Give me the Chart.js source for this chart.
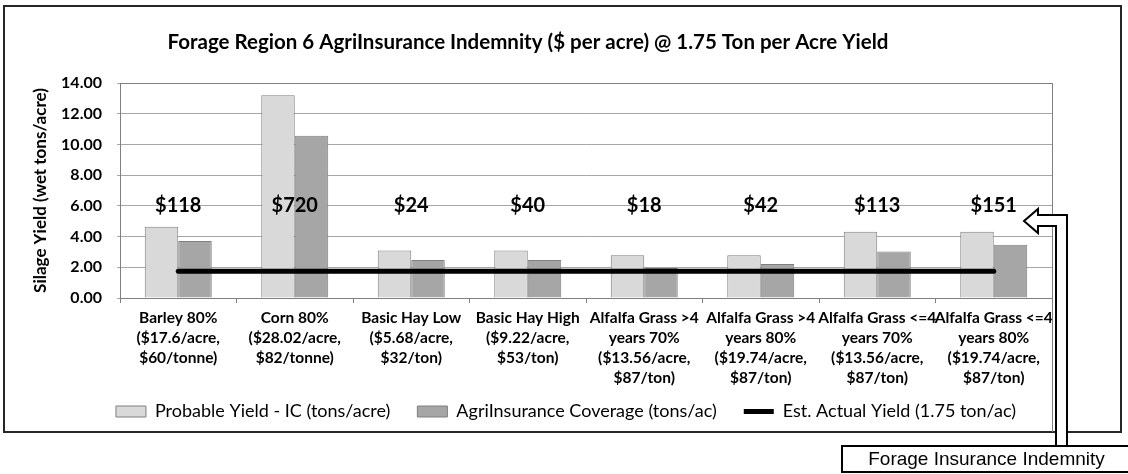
<!DOCTYPE html>
<html>
<head>
<meta charset="utf-8">
<script src="https://cdn.jsdelivr.net/npm/chart.js@4.4.1/dist/chart.umd.min.js"></script>
<style>
    body { margin: 0; background: #fff; }
    #area { width: 1128px; height: 474px; }
</style>
</head>
<body>
<div id="area"><canvas id="graficoIndenizacao" width="1128" height="474"></canvas></div>
<script>
// categorias (rótulos do eixo x, em várias linhas)
const categorias = [
    ["Barley 80%", "($17.6/acre,", "$60/tonne)"],
    ["Corn 80%", "($28.02/acre,", "$82/tonne)"],
    ["Basic Hay Low", "($5.68/acre,", "$32/ton)"],
    ["Basic Hay High", "($9.22/acre,", "$53/ton)"],
    ["Alfalfa Grass >4", "years 70%", "($13.56/acre,", "$87/ton)"],
    ["Alfalfa Grass >4", "years 80%", "($19.74/acre,", "$87/ton)"],
    ["Alfalfa Grass <=4", "years 70%", "($13.56/acre,", "$87/ton)"],
    ["Alfalfa Grass <=4", "years 80%", "($19.74/acre,", "$87/ton)"]
];
const rendimentoProvavel = [4.64, 13.2, 3.1, 3.1, 2.78, 2.78, 4.32, 4.32];   // tons/acre
const coberturaSeguro = [3.71, 10.56, 2.48, 2.48, 1.95, 2.22, 3.02, 3.46];   // tons/ac
const rendimentoReal = [1.75, 1.75, 1.75, 1.75, 1.75, 1.75, 1.75, 1.75];   // 1.75 ton/ac
const indenizacao = [118, 720, 24, 40, 18, 42, 113, 151];                 // $ per acre
const ticksY = { min: 0, max: 14, passo: 2 };

const titulo = "Forage Region 6 AgriInsurance Indemnity ($ per acre) @ 1.75 Ton per Acre Yield";
const nomesSeries = ["Probable Yield - IC (tons/acre)", "AgriInsurance Coverage (tons/ac)", "Est. Actual Yield (1.75 ton/ac)"];

Chart.defaults.font.family = "Lato, 'Open Sans', sans-serif";
Chart.defaults.color = "#000";

// desenha moldura, valores em $ e a caixa com seta
const extras = {
    id: "extras",
    afterLayout(chart) {
        // legenda um pouco à direita e acima, como no original
        const lg = chart.legend;
        const dy = 375.5 - lg.top;
        lg.left += 38; lg.right += 38;
        lg.top += dy; lg.bottom += dy;
    },
    beforeDatasetsDraw(chart) {
        const { ctx, chartArea: a } = chart;
        ctx.save();
        ctx.strokeStyle = "#7f7f7f";
        ctx.lineWidth = 1;
        ctx.strokeRect(a.left + 0.5, a.top + 0.5, a.right - a.left, a.bottom - a.top);
        ctx.restore();
    },
    afterDatasetsDraw(chart) {
        const { ctx, scales } = chart;
        ctx.save();
        ctx.font = "bold 20px Lato";
        ctx.fillStyle = "#000";
        ctx.textAlign = "center";
        ctx.textBaseline = "middle";
        indenizacao.forEach((v, i) => {
            ctx.fillText("$" + v, scales.x.getPixelForValue(i), scales.y.getPixelForValue(6));
        });
        ctx.restore();
    },
    afterDraw(chart) {
        const { ctx, chartArea: a } = chart;
        ctx.save();
        // moldura externa
        ctx.strokeStyle = "#262626";
        ctx.lineWidth = 2;
        ctx.strokeRect(4, 6, 1117, 426);
        // borda direita do gráfico
        ctx.strokeStyle = "#7f7f7f";
        ctx.lineWidth = 1;
        ctx.beginPath();
        ctx.moveTo(a.right + 0.5, a.top);
        ctx.lineTo(a.right + 0.5, 432);
        ctx.stroke();
        // seta
        const seta = [[1024, 221], [1038, 209], [1038, 215], [1067, 215], [1067, 447], [1056, 447], [1056, 226], [1038, 226], [1038, 233]];
        ctx.beginPath();
        seta.forEach(([x, y], i) => i ? ctx.lineTo(x, y) : ctx.moveTo(x, y));
        ctx.closePath();
        ctx.fillStyle = "#fff";
        ctx.fill();
        ctx.strokeStyle = "#000";
        ctx.lineWidth = 2;
        ctx.stroke();
        // caixa
        ctx.fillStyle = "#fff";
        ctx.fillRect(842, 446, 292, 26);
        ctx.strokeRect(842, 446, 292, 26);
        ctx.fillStyle = "#000";
        ctx.font = "19px 'Liberation Sans'";
        ctx.textAlign = "center";
        ctx.textBaseline = "middle";
        ctx.fillText("Forage Insurance Indemnity", 986.5, 460);
        ctx.restore();
    }
};

const ctx = document.getElementById("graficoIndenizacao").getContext("2d");
new Chart(ctx, {
    type: "bar",
    data: {
        labels: categorias,
        datasets: [
            {
                label: nomesSeries[0],
                data: rendimentoProvavel,
                backgroundColor: "#d9d9d9",
                borderColor: "#7f7f7f",
                borderWidth: 1,
                order: 1
            },
            {
                label: nomesSeries[1],
                data: coberturaSeguro,
                backgroundColor: "#a6a6a6",
                borderColor: "#7f7f7f",
                borderWidth: 1,
                order: 1
            },
            {
                type: "line",
                label: nomesSeries[2],
                data: rendimentoReal,
                borderColor: "#000",
                backgroundColor: "#000",
                borderWidth: 5,
                borderCapStyle: "round",
                pointRadius: 0,
                fill: false,
                order: 0
            }
        ]
    },
    options: {
        responsive: false,
        animation: false,
        devicePixelRatio: 1,
        categoryPercentage: 0.575,
        barPercentage: 1,
        layout: { padding: { left: 4, right: 76, top: 6, bottom: 27 } },
        scales: {
            x: {
                afterFit: s => { s.height = 94; },
                grid: { display: true, drawOnChartArea: false, drawTicks: true, tickLength: 5, offset: true, color: "#7f7f7f" },
                border: { color: "#7f7f7f" },
                ticks: {
                    autoSkip: false,
                    maxRotation: 0,
                    padding: 5,
                    font: { size: 15.5, weight: "bold", lineHeight: 1.29 }
                }
            },
            y: {
                min: ticksY.min,
                max: ticksY.max,
                afterFit: s => { s.width = 116; },
                grid: { color: "#a6a6a6", tickLength: 3 },
                border: { color: "#7f7f7f" },
                ticks: {
                    stepSize: ticksY.passo,
                    padding: 15,
                    font: { size: 16, weight: "bold" },
                    callback: v => v.toFixed(2)
                },
                title: {
                    display: true,
                    text: "Silage Yield (wet tons/acre)",
                    font: { size: 17, weight: "bold" },
                    padding: { top: 26, bottom: 0 }
                }
            }
        },
        plugins: {
            title: {
                display: true,
                text: titulo,
                font: { size: 20.5, weight: "bold" },
                padding: { top: 23.7, bottom: 28.7 }
            },
            legend: {
                position: "bottom",
                labels: {
                    usePointStyle: true,
                    pointStyleWidth: 30,
                    boxHeight: 11,
                    padding: 27,
                    font: { size: 18 },
                    sort: (a, b) => a.datasetIndex - b.datasetIndex,
                    generateLabels(chart) {
                        const itens = Chart.defaults.plugins.legend.labels.generateLabels(chart);
                        itens.forEach(item => { item.pointStyle = item.datasetIndex === 2 ? "line" : "rect"; });
                        return itens;
                    }
                }
            },
            tooltip: { enabled: false }
        }
    },
    plugins: [extras]
});
</script>
</body>
</html>
